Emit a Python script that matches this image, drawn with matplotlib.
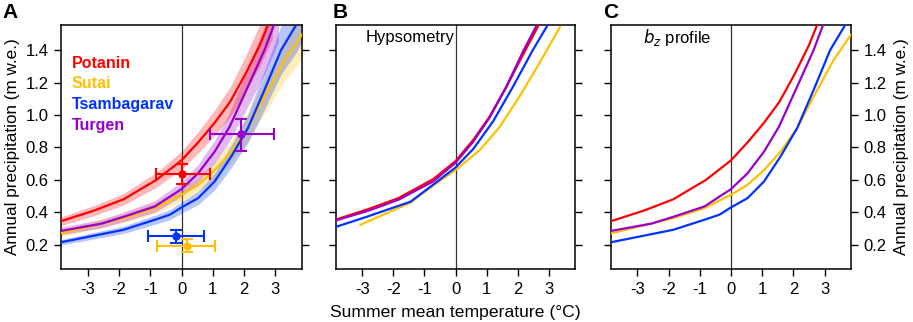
import numpy as np
import matplotlib.pyplot as plt

plt.rcParams['font.family'] = ['Liberation Sans', 'DejaVu Sans']

sites = ["Potanin", "Sutai", "Tsambagarav", "Turgen"]
colors = ["#ff0000", "#ffc000", "#0033ff", "#9900cc"]

# panel A / C: modelled precipitation vs summer temperature (with uncertainty band)
t_pot = [-3.85, -2.8, -1.85, -0.8, 0, 0.55, 1.05, 1.55, 2.05, 2.5, 2.9]
p_pot = [0.345, 0.41, 0.48, 0.60, 0.72, 0.835, 0.95, 1.08, 1.255, 1.43, 1.62]
hw_pot = [0.027, 0.031, 0.036, 0.046, 0.056, 0.067, 0.078, 0.092, 0.11, 0.13, 0.15]

t_sut = [-3.85, -1.85, -0.85, 0, 0.53, 1.06, 1.59, 2.12, 2.65, 3.29, 3.9]
p_sut = [0.27, 0.364, 0.426, 0.508, 0.569, 0.66, 0.774, 0.918, 1.113, 1.338, 1.51]
hw_sut = [0.02, 0.027, 0.033, 0.04, 0.046, 0.055, 0.067, 0.083, 0.105, 0.13, 0.15]

t_tsa = [-3.85, -1.85, -0.85, -0.37, 0, 0.53, 1.06, 1.59, 2.12, 2.65, 3.18, 3.66, 3.9]
p_tsa = [0.215, 0.292, 0.354, 0.385, 0.43, 0.487, 0.59, 0.744, 0.918, 1.154, 1.40, 1.554, 1.65]
hw_tsa = [0.017, 0.023, 0.028, 0.031, 0.035, 0.041, 0.052, 0.07, 0.09, 0.12, 0.15, 0.17, 0.18]

t_tur = [-3.85, -2.55, -1.85, -0.85, 0, 0.53, 1.06, 1.54, 2.12, 2.65, 3.1]
p_tur = [0.285, 0.33, 0.372, 0.436, 0.543, 0.64, 0.774, 0.928, 1.174, 1.40, 1.63]
hw_tur = [0.023, 0.026, 0.03, 0.035, 0.045, 0.055, 0.07, 0.088, 0.12, 0.15, 0.18]

# panel B: hypsometry sensitivity
tb_pot = [-3.85, -2.8, -1.84, -0.72, 0, 0.57, 1.1, 1.64, 2.17, 2.68, 2.95]
pb_pot = [0.355, 0.42, 0.487, 0.604, 0.715, 0.846, 0.99, 1.174, 1.37, 1.555, 1.66]
tb_sut = [-3.06, -2.09, -1.45, -0.72, 0, 0.79, 1.43, 2.06, 2.70, 3.36]
pb_sut = [0.323, 0.405, 0.46, 0.565, 0.66, 0.785, 0.928, 1.113, 1.318, 1.54]
tb_tsa = [-3.85, -2.83, -1.45, -0.72, 0, 0.57, 1.21, 1.85, 2.49, 2.97, 3.2]
pb_tsa = [0.31, 0.374, 0.465, 0.57, 0.676, 0.79, 0.96, 1.174, 1.40, 1.555, 1.64]
tb_tur = [-3.85, -2.8, -1.84, -0.72, 0, 0.57, 1.1, 1.64, 2.17, 2.62, 2.9]
pb_tur = [0.35, 0.41, 0.477, 0.59, 0.705, 0.835, 0.985, 1.175, 1.39, 1.555, 1.67]

# observations (temperature, precipitation, error ranges)
obs_t = [0.0, 0.16, -0.17, 1.90]
obs_p = [0.637, 0.194, 0.255, 0.881]
obs_t_lo = [-0.83, -0.77, -1.07, 0.92]
obs_t_hi = [0.90, 1.08, 0.73, 2.94]
obs_p_lo = [0.575, 0.153, 0.21, 0.78]
obs_p_hi = [0.696, 0.235, 0.292, 0.973]

curves_a = [(t_pot, p_pot, hw_pot), (t_sut, p_sut, hw_sut),
            (t_tsa, p_tsa, hw_tsa), (t_tur, p_tur, hw_tur)]
curves_b = [(tb_pot, pb_pot), (tb_sut, pb_sut), (tb_tsa, pb_tsa), (tb_tur, pb_tur)]

fig = plt.figure(figsize=(9.13, 3.22), dpi=100)
W, H = 913, 322
boxes = [(61, 302), (336, 575), (611, 851)]
axs = [fig.add_axes([l / W, (H - 269) / H, (r - l) / W, 244 / H]) for l, r in boxes]

yt = [0.2, 0.4, 0.6, 0.8, 1.0, 1.2, 1.4]
for ax in axs:
    ax.set_xlim(-3.85, 3.85)
    ax.set_ylim(0.05, 1.555)
    ax.set_xticks([-3, -2, -1, 0, 1, 2, 3])
    ax.set_xticklabels(["-3", "-2", "-1", "0", "1", "2", "3"])
    ax.set_yticks(yt)
    ax.set_yticklabels([f"{v:.1f}" for v in yt])
    ax.tick_params(direction="out", length=5, width=1, labelsize=12,
                   left=True, right=True, top=False, pad=4)
    ax.axvline(0, color="#333333", lw=0.9, zorder=1)
    for s in ax.spines.values():
        s.set_linewidth(1.1)

# panel A
ax = axs[0]
order = [1, 2, 3, 0]
for i in order:
    t, p, hw = curves_a[i]
    t = np.array(t); p = np.array(p); hw = np.array(hw)
    ax.fill_between(t, p - hw, p + hw, color=colors[i], alpha=0.28, lw=0, zorder=2)
for i in order:
    t, p, hw = curves_a[i]
    ax.plot(t, p, color=colors[i], lw=1.6, zorder=3)
for i in range(4):
    ax.errorbar(obs_t[i], obs_p[i],
                xerr=[[obs_t[i] - obs_t_lo[i]], [obs_t_hi[i] - obs_t[i]]],
                yerr=[[obs_p[i] - obs_p_lo[i]], [obs_p_hi[i] - obs_p[i]]],
                fmt="o", color=colors[i], ms=5, capsize=4, elinewidth=1.5,
                capthick=1.5, zorder=4)
leg_y = [1.32, 1.193, 1.066, 0.938]
for i in range(4):
    ax.text(-3.5, leg_y[i], sites[i], color=colors[i], fontsize=11.5,
            fontweight="bold", va="center", ha="left")
ax.tick_params(labelleft=True, labelright=False)
ax.set_ylabel("Annual precipitation (m w.e.)", fontsize=12.3, labelpad=4)

# panel B
ax = axs[1]
for i in [1, 2, 0, 3]:
    ax.plot(curves_b[i][0], curves_b[i][1], color=colors[i], lw=1.6, zorder=3)
ax.tick_params(labelleft=False, labelright=False)
ax.text(-2.9, 1.48, "Hypsometry", fontsize=12, va="center", ha="left")
ax.set_xlabel("Summer mean temperature (°C)", fontsize=12.6, labelpad=6)

# panel C
ax = axs[2]
for i in [1, 2, 3, 0]:
    t, p, hw = curves_a[i]
    ax.plot(t, p, color=colors[i], lw=1.6, zorder=3)
ax.tick_params(labelleft=False, labelright=True)
ax.yaxis.set_label_position("right")
ax.set_ylabel("Annual precipitation (m w.e.)", fontsize=12.3, labelpad=5)
ax.text(-2.82, 1.48, "$b_z$ profile", fontsize=12, va="center", ha="left")

# panel letters
fig.text(2 / W, 1 - 12 / H, "A", fontsize=15, fontweight="bold", va="center")
fig.text(333 / W, 1 - 12 / H, "B", fontsize=15, fontweight="bold", va="center")
fig.text(603 / W, 1 - 12 / H, "C", fontsize=15, fontweight="bold", va="center")

fig.savefig("out.png", dpi=100)
